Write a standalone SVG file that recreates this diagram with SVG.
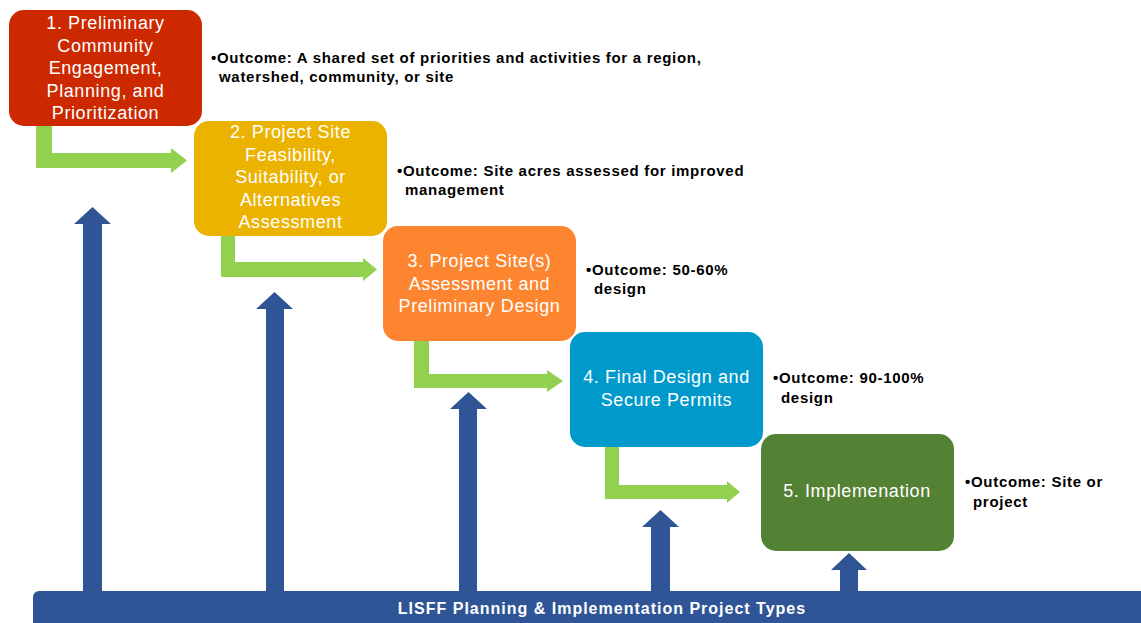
<svg xmlns="http://www.w3.org/2000/svg" width="1141" height="623" viewBox="0 0 1141 623">
<style>
.box text{font-family:"Liberation Sans",Arial,sans-serif;font-size:18px;letter-spacing:0.6px;fill:#fff;text-anchor:middle}
.out{font-family:"Liberation Sans",Arial,sans-serif;font-size:15px;letter-spacing:0.7px;font-weight:bold;fill:#000}
.g{fill:#92D050}
.b{fill:#2F5597}
</style>
<rect width="1141" height="623" fill="#fff"/>
<g id="connectors">
<polygon class="b" points="83,595 83,224 74,224 92.5,207 111,224 102,224 102,595"/>
<polygon class="b" points="266,595 266,309 256,309 274.5,292 293,309 284,309 284,595"/>
<polygon class="b" points="459,595 459,409 450,409 468.5,392 487,409 477,409 477,595"/>
<polygon class="b" points="651,595 651,527 642,527 660.5,510 679,527 670,527 670,595"/>
<polygon class="b" points="840,595 840,570 831,570 849,553 867,570 858,570 858,595"/>
<polygon class="g" points="36,126 52,126 52,153 171,153 171,148 187,160.5 171,173 171,168 36,168"/>
<polygon class="g" points="221,236 235,236 235,262 363,262 363,258 377,269.5 363,281 363,277 221,277"/>
<polygon class="g" points="414,341 429,341 429,374 547,374 547,370 563,381 547,392 547,388 414,388"/>
<polygon class="g" points="605,446 619,446 619,485 727,485 727,481 740,492 727,503 727,499 605,499"/>
</g>
<g id="bar">
<rect x="33" y="591" width="1120" height="40" rx="6" fill="#2F5597"/>
<text x="602" y="614" font-family="Liberation Sans,Arial,sans-serif" font-size="16px" letter-spacing="1px" font-weight="bold" fill="#fff" text-anchor="middle">LISFF Planning &amp; Implementation Project Types</text>
</g>
<g id="node1" class="box">
<rect x="9" y="10" width="193" height="116" rx="15" fill="#CC2900"/>
<text><tspan x="105.5" y="29">1. Preliminary</tspan><tspan x="105.5" y="51.5">Community</tspan><tspan x="105.5" y="74">Engagement,</tspan><tspan x="105.5" y="96.5">Planning, and</tspan><tspan x="105.5" y="119">Prioritization</tspan></text>
</g>
<g id="node2" class="box">
<rect x="194" y="121" width="193" height="115" rx="15" fill="#EBB300"/>
<text><tspan x="290.5" y="138">2. Project Site</tspan><tspan x="290.5" y="160.5">Feasibility,</tspan><tspan x="290.5" y="183">Suitability, or</tspan><tspan x="290.5" y="205.5">Alternatives</tspan><tspan x="290.5" y="228">Assessment</tspan></text>
</g>
<g id="node3" class="box">
<rect x="383" y="226" width="193" height="115" rx="15" fill="#FD852F"/>
<text><tspan x="479.5" y="267">3. Project Site(s)</tspan><tspan x="479.5" y="289.5">Assessment and</tspan><tspan x="479.5" y="312">Preliminary Design</tspan></text>
</g>
<g id="node4" class="box">
<rect x="570" y="332" width="193" height="115" rx="15" fill="#0099CC"/>
<text><tspan x="666.5" y="383">4. Final Design and</tspan><tspan x="666.5" y="405.5">Secure Permits</tspan></text>
</g>
<g id="node5" class="box">
<rect x="761" y="434" width="193" height="117" rx="15" fill="#548235"/>
<text><tspan x="857" y="497">5. Implemenation</tspan></text>
</g>
<g id="outcome1"><text class="out"><tspan x="211" y="63">•Outcome: A shared set of priorities and activities for a region,</tspan><tspan x="219" y="82">watershed, community, or site</tspan></text></g>
<g id="outcome2"><text class="out"><tspan x="397" y="176">•Outcome: Site acres assessed for improved</tspan><tspan x="405" y="195">management</tspan></text></g>
<g id="outcome3"><text class="out"><tspan x="586" y="275">•Outcome: 50-60%</tspan><tspan x="594" y="294">design</tspan></text></g>
<g id="outcome4"><text class="out"><tspan x="773" y="383">•Outcome: 90-100%</tspan><tspan x="781" y="403">design</tspan></text></g>
<g id="outcome5"><text class="out"><tspan x="965" y="487">•Outcome: Site or</tspan><tspan x="973" y="507">project</tspan></text></g>
</svg>
